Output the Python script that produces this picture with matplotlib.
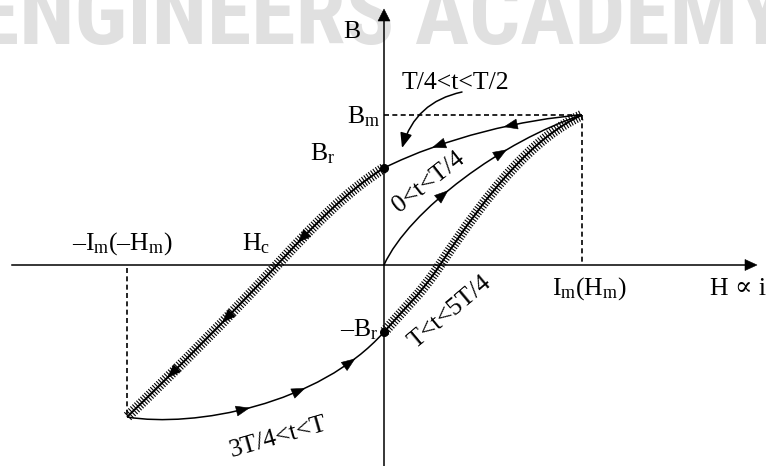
"""B-H hysteresis loop sketch: magnetisation path over one period of the current."""
import numpy as np
import matplotlib
matplotlib.use("Agg")
import matplotlib.pyplot as plt  # noqa: E402
import matplotlib.patheffects as pe  # noqa: E402
from matplotlib.path import Path  # noqa: E402
from matplotlib.patches import PathPatch, Polygon  # noqa: E402
from matplotlib.bezier import BezierSegment  # noqa: E402

plt.rcParams["font.family"] = ["Liberation Serif", "DejaVu Serif"]
plt.rcParams["mathtext.fontset"] = "custom"
plt.rcParams["mathtext.rm"] = "Liberation Serif"
plt.rcParams["mathtext.it"] = "Liberation Serif:italic"

# drawing units = pixels of the sketch, origin at H = 0, B = 0
H_MAX, B_MAX = 198, 150        # I_m(H_m), B_m
H_MIN, B_MIN = -257, -152      # -I_m(-H_m), -B_m
B_R, B_R_NEG = 97, -67         # remanence
H_C, H_UP = -107, 56           # zero crossings of the hatched branches

# cubic Bezier control points per branch, in the direction of travel
initial = [(0, 0), (25, 55), (120, 125), (H_MAX, B_MAX)]
top_down = [(H_MAX, B_MAX), (140, 146), (60, 127), (0, B_R)]
left_down = [(0, B_R), (-36, 75), (-71, 39), (H_C, 0),
             (-157, -54), (-206, -103), (H_MIN, B_MIN)]
bottom_up = [(H_MIN, B_MIN), (-190, -163), (-65, -140), (0, B_R_NEG)]
right_up = [(0, B_R_NEG), (20, -44), (36, -30), (H_UP, 0),
            (106, 76), (150, 128), (H_MAX, B_MAX)]

# where the direction arrows sit on each branch
arrows_initial = [(59, 70), (116, 113)]
arrows_top = [(126, 142), (54, 123)]
arrows_left = [(-82, 28), (-157, -52), (-211, -108)]
arrows_bottom = [(-141, -147), (-84, -128), (-34, -98)]


def bezier_path(pts):
    return Path(pts, [Path.MOVETO] + [Path.CURVE4] * (len(pts) - 1))


def on_curve(pts, xy):
    """nearest point on the branch and the unit tangent there"""
    xy = np.asarray(xy, float)
    best = None
    for i in range(0, len(pts) - 1, 3):
        seg = BezierSegment(np.array(pts[i:i + 4], float))
        t = np.linspace(0, 1, 301)
        p = seg(t)
        d = np.hypot(*(p - xy).T)
        k = d.argmin()
        if best is None or d[k] < best[0]:
            a, b = seg(np.clip([t[k] - 0.01, t[k] + 0.01], 0, 1))
            best = (d[k], p[k], (b - a) / np.hypot(*(b - a)))
    return best[1], best[2]


def head(ax, tip, u, length, half):
    tip = np.asarray(tip, float)
    n = np.array([-u[1], u[0]])
    base = tip - u * length
    ax.add_patch(Polygon([tip, base + n * half, base - n * half], closed=True,
                         fc="k", ec="k", lw=0.4, zorder=6))


fig = plt.figure(figsize=(7.66, 4.66), dpi=100)
ax = fig.add_axes([0, 0, 1, 1])
ax.set_xlim(-384, 382)
ax.set_ylim(-201, 265)
ax.axis("off")

# watermark
ax.text(-409, 221, "ENGINEERS ACADEMY", fontsize=65, fontweight="bold",
        fontstretch="condensed",
        family=["Liberation Sans Narrow", "Roboto Condensed", "Open Sans Condensed",
                "DejaVu Sans"],
        color="#e0e0e0", ha="left", va="baseline", zorder=0)

# axes
ax.plot([-372, 362], [0, 0], color="k", lw=1.1, zorder=2)
head(ax, (373, 0), np.array([1.0, 0.0]), 12, 5.5)
ax.plot([0, 0], [-201, 245], color="k", lw=1.1, zorder=2)
head(ax, (0, 256), np.array([0.0, 1.0]), 12, 6)

# dashed guides
dash = dict(color="k", lw=1.2, ls=(0, (3, 2)), zorder=2)
ax.plot([0, H_MAX], [B_MAX, B_MAX], **dash)
ax.plot([H_MAX, H_MAX], [B_MAX, 3], **dash)
ax.plot([H_MIN, H_MIN], [-3, B_MIN], **dash)

# plain branches
for pts in (initial, top_down, bottom_up):
    ax.add_patch(PathPatch(bezier_path(pts), fill=False, ec="k", lw=1.1, zorder=3))

# hatched branches
ticks = [pe.TickedStroke(angle=a, spacing=2.0, length=1.9, linewidth=0.8)
         for a in (90, -90)]
for pts in (left_down, right_up):
    ax.add_patch(PathPatch(bezier_path(pts), fill=False, ec="k", lw=1.4, zorder=3,
                           path_effects=ticks + [pe.Normal()]))

# direction arrows
for pts, marks in ((initial, arrows_initial), (top_down, arrows_top),
                   (left_down, arrows_left), (bottom_up, arrows_bottom)):
    for xy in marks:
        p, u = on_curve(pts, xy)
        head(ax, p + u * 6.5, u, 13, 5)

# remanence dots
ax.plot([0, 0], [B_R, B_R_NEG], "o", color="k", ms=5.5, zorder=7)

# labels
txt = dict(fontsize=18.5, color="k", ha="left", va="baseline", zorder=8)
ax.text(-41, 227, "B", **txt)
ax.text(18, 176, "T/4<t<T/2", **txt)
ax.text(-37, 142, r"B$_\mathrm{m}$", **txt)
ax.text(-74, 105, r"B$_\mathrm{r}$", **txt)
ax.text(-142, 15, r"H$_\mathrm{c}$", **txt)
ax.text(-312, 15, r"–I$_\mathrm{m}$(–H$_\mathrm{m}$)", **txt)
ax.text(-44, -71, r"–B$_\mathrm{r}$", **txt)
ax.text(168, -30, r"I$_\mathrm{m}$(H$_\mathrm{m}$)", **txt)
ax.text(326, -30, "H ∝ i", **txt)

rot = dict(fontsize=18.5, color="k", ha="center", va="center",
           rotation_mode="anchor", zorder=8)
ax.text(45, 83, "0<t<T/4", rotation=38, **rot)
ax.text(66, -47, "T<t<5T/4", rotation=40, **rot)
ax.text(-106, -172, "3T/4<t<T", rotation=16, **rot)

ax.annotate("", xy=(18, 117), xytext=(78, 173),
            arrowprops=dict(arrowstyle="-|>,head_length=0.9,head_width=0.36",
                            connectionstyle="arc3,rad=0.3", lw=1.1, color="k",
                            shrinkA=0, shrinkB=0, mutation_scale=10))

fig.savefig("out.png", dpi=100)
